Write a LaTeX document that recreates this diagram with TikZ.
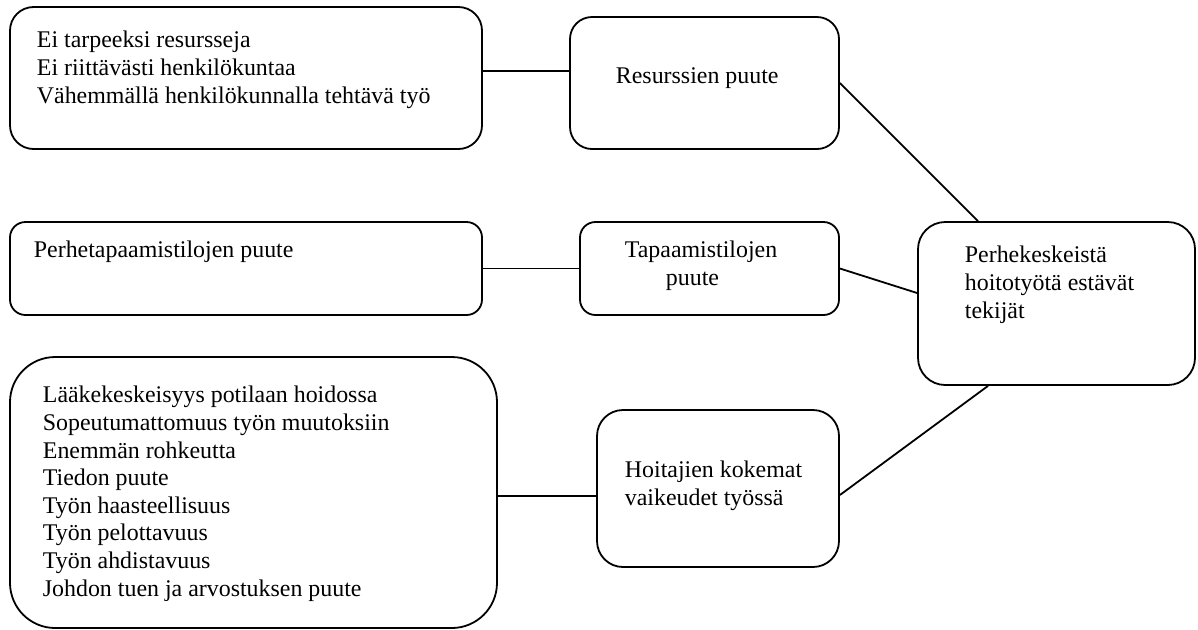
\documentclass[tikz,border=0pt]{standalone}
\usepackage{fontspec}
\setmainfont{Liberation Serif}

\tikzset{
	box/.style={draw, inner sep=0pt},
	txt/.style={anchor=north west, inner sep=0pt, align=left, font=\fontsize{11.95}{13.8}\selectfont},
}

\begin{document}
\begin{tikzpicture}[x=0.5pt,y=-0.5pt,line width=0.9pt]
			\useasboundingbox (0,0) rectangle (1198,629);
			% laatikot
			\node[box,minimum width=236pt,minimum height=71pt,rounded corners=11.8pt] (resurssit) at (246,78) {};
			\node[box,minimum width=134.5pt,minimum height=66pt,rounded corners=11pt] (respuute) at (704.5,83) {};
			\node[box,minimum width=236pt,minimum height=46.5pt,rounded corners=7.75pt] (tilat) at (246,268.5) {};
			\node[box,minimum width=129.5pt,minimum height=46.5pt,rounded corners=7.75pt] (tilapuute) at (709.5,268.5) {};
			\node[box,minimum width=138.5pt,minimum height=81.5pt,rounded corners=13.6pt] (tekijat) at (1056.5,303.5) {};
			\node[box,minimum width=121pt,minimum height=78.5pt,rounded corners=13pt] (vaikeudet) at (718,488.5) {};
			\node[box,minimum width=243.5pt,minimum height=135.5pt,rounded corners=22.6pt] (syyt) at (253.5,492.5) {};
			% tekstit
			\node[txt] (resurssit-t) at (36,27.7) {\strut Ei tarpeeksi resursseja\\Ei riittävästi henkilökuntaa\\Vähemmällä henkilökunnalla tehtävä työ};
			\node[txt] (respuute-t) at (615,63.7) {\strut Resurssien puute};
			\node[txt] (tilat-t) at (33,237.7) {\strut Perhetapaamistilojen puute};
			\node[txt] (tilapuute-t) at (624,237.7) {\strut Tapaamistilojen\\\hspace*{20.5pt}puute};
			\node[txt] (tekijat-t) at (964,242.7) {\strut Perhekeskeistä\\hoitotyötä estävät\\tekijät};
			\node[txt] (vaikeudet-t) at (624,457.7) {\strut Hoitajien kokemat\\vaikeudet työssä};
			\node[txt] (syyt-t) at (42,382.7) {\strut Lääkekeskeisyys potilaan hoidossa\\Sopeutumattomuus työn muutoksiin\\Enemmän rohkeutta\\Tiedon puute\\Työn haasteellisuus\\Työn pelottavuus\\Työn ahdistavuus\\Johdon tuen ja arvostuksen puute};
			% yhteydet
			\draw ([yshift=3.5pt]resurssit.east) -- ([yshift=6pt]respuute.west);
			\draw (respuute.east) -- ([xshift=-39.25pt]tekijat.north);
			\draw (tilat.east) -- (tilapuute.west);
			\draw (tilapuute.east) -- ([yshift=5.25pt]tekijat.west);
			\draw ([xshift=-34.25pt]tekijat.south) -- ([yshift=-3.25pt]vaikeudet.east);
			\draw ([yshift=-1.75pt]syyt.east) -- ([yshift=-3.75pt]vaikeudet.west);
\end{tikzpicture}
\end{document}
